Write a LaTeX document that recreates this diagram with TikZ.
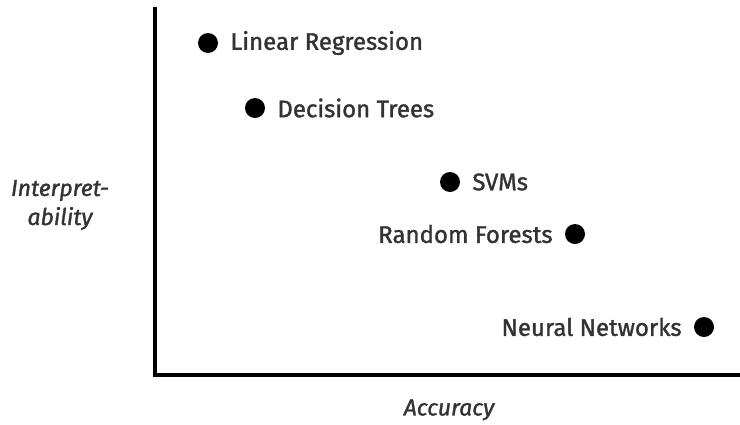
\documentclass[tikz,border=0pt]{standalone}
\usepackage{fontspec}
\setmainfont{Fira Sans}
\newfontfamily\plotfont{Fira Sans}[FakeBold=1.4]
\usepackage{tikz}
\usetikzlibrary{positioning}

\begin{document}
\begin{tikzpicture}
    [ x=1pt, y=-1pt,
    inner sep=0pt,
    dot/.style={circle, fill=black, minimum size=20pt},
    lab/.style={font=\plotfont\fontsize{24}{28}\selectfont, text=black!80},
    axislab/.style={font=\plotfont\fontsize{23}{29}\selectfont\itshape, text=black!80, align=center},
    axis/.style={line width=4pt, line cap=rect}
    ]

    \useasboundingbox (0,0) rectangle (740,424);

    % axes
    \coordinate (top) at (155,9);
    \coordinate (origin) at (155,375);
    \coordinate (right) at (738,375);
    \draw [axis] (top) -- (origin) -- (right);

    \node [axislab] (ylab) at (60,205) {Interpret-\\ability};
    \node [axislab] (xlab) at (449,410) {Accuracy};

    % models
    \node[dot] (lr)  at (208,43) {};
    \node[dot] (dt)  at (255,108) {};
    \node[dot] (svm) at (450,182) {};
    \node[dot] (rf)  at (575,234) {};
    \node[dot] (nn)  at (704,327) {};

    \node [lab, right=12pt of lr]  {Linear Regression};
    \node [lab, right=12pt of dt]  {Decision Trees};
    \node [lab, right=12pt of svm] {SVMs};
    \node [lab, left=12pt of rf]   {Random Forests};
    \node [lab, left=12pt of nn]   {Neural Networks};
  \end{tikzpicture}
\end{document}
